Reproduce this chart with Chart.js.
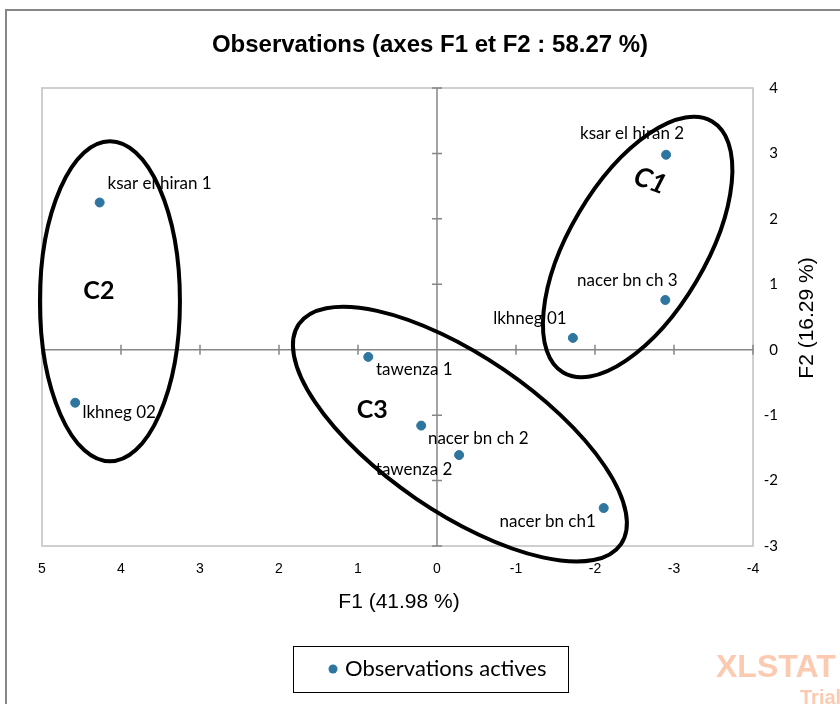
<!DOCTYPE html>
<html>
<head>
<meta charset="utf-8">
<script src="https://cdn.jsdelivr.net/npm/chart.js@4/dist/chart.umd.min.js"></script>
<style>
  html, body { margin: 0; padding: 0; background: #fff; }
  canvas { display: block; }
</style>
</head>
<body>
<canvas id="acpChart" width="840" height="704"></canvas>
<script>
// observations (coordonnées F1 / F2)
const obsNames = ['ksar el hiran 1', 'lkhneg 02', 'ksar el hiran 2', 'nacer bn ch 3', 'lkhneg 01',
                  'tawenza 1', 'nacer bn ch 2', 'tawenza 2', 'nacer bn ch1'];
const f1Values = [4.27, 4.58, -2.90, -2.89, -1.72, 0.87, 0.20, -0.28, -2.11];
const f2Values = [2.25, -0.81, 2.98, 0.76, 0.18, -0.11, -1.16, -1.61, -2.42];

// groupes (centres des ellipses en unités des axes)
const clusterNames = ['C1', 'C2', 'C3'];
const clusterF1 = [-2.54, 4.14, -0.29];
const clusterF2 = [1.57, 0.74, -1.29];
const clusterLabelF1 = [-2.70, 4.28, 0.82];
const clusterLabelF2 = [2.58, 0.90, -0.92];

const xTicks = [5, 4, 3, 2, 1, 0, -1, -2, -3, -4];
const yTicks = [4, 3, 2, 1, 0, -1, -2, -3];

// placement des étiquettes (décalage en px depuis le point)
const labelOffsets = [[60, -19], [44, 10], [-34, -21], [-38, -19], [-43, -19],
                      [46, 13], [57, 13], [-45, 14], [-56, 13]];
// forme des ellipses (px) : demi-axes et rotation
const ellipseShapes = [
  { rx: 68, ry: 146, rot: 30.7 },
  { rx: 70, ry: 160, rot: 0 },
  { rx: 195, ry: 78, rot: 34.3 }
];

const pointColor = '#2e75a0';
const points = f1Values.map((x, i) => ({ x: x, y: f2Values[i] }));

const decorPlugin = {
  id: 'decor',
  beforeDraw(chart) {
    const ctx = chart.ctx;
    const a = chart.chartArea;
    const xs = chart.scales.x, ys = chart.scales.y;
    ctx.save();
    // cadre extérieur
    ctx.strokeStyle = '#878787';
    ctx.lineWidth = 2;
    ctx.beginPath();
    ctx.moveTo(6, 720); ctx.lineTo(6, 10); ctx.lineTo(850, 10);
    ctx.stroke();
    // titre
    ctx.fillStyle = '#000';
    ctx.font = 'bold 24px "Liberation Sans"';
    ctx.textAlign = 'center';
    ctx.textBaseline = 'middle';
    ctx.fillText('Observations (axes F1 et F2 : 58.27 %)', 430, 45);
    // titres des axes
    ctx.font = '21px "Liberation Sans"';
    ctx.fillText('F1 (41.98 %)', 399, 602);
    ctx.save();
    ctx.translate(807, 318);
    ctx.rotate(-Math.PI / 2);
    ctx.fillText('F2 (16.29 %)', 0, 0);
    ctx.restore();
    // bordure de la zone de tracé
    ctx.strokeStyle = '#c0c0c0';
    ctx.lineWidth = 1.5;
    ctx.strokeRect(a.left, a.top, a.right - a.left, a.bottom - a.top);
    // axes passant par zéro
    const x0 = xs.getPixelForValue(0), y0 = ys.getPixelForValue(0);
    ctx.strokeStyle = '#868686';
    ctx.lineWidth = 1.5;
    ctx.beginPath();
    ctx.moveTo(x0, a.top); ctx.lineTo(x0, a.bottom);
    ctx.moveTo(a.left, y0); ctx.lineTo(a.right, y0);
    yTicks.forEach(v => {
      const py = ys.getPixelForValue(v);
      ctx.moveTo(x0 - 5, py); ctx.lineTo(x0 + 5, py);
    });
    xTicks.forEach(v => {
      const px = xs.getPixelForValue(v);
      ctx.moveTo(px, y0 - 5); ctx.lineTo(px, y0 + 5);
    });
    ctx.stroke();
    ctx.restore();
  },
  afterDatasetsDraw(chart) {
    const ctx = chart.ctx;
    const xs = chart.scales.x, ys = chart.scales.y;
    ctx.save();
    // étiquettes des observations
    ctx.fillStyle = '#000';
    ctx.font = '17px Lato';
    ctx.textAlign = 'center';
    ctx.textBaseline = 'middle';
    obsNames.forEach((name, i) => {
      const px = xs.getPixelForValue(f1Values[i]);
      const py = ys.getPixelForValue(f2Values[i]);
      ctx.fillText(name, px + labelOffsets[i][0], py + labelOffsets[i][1]);
    });
    // ellipses des groupes
    ctx.strokeStyle = '#000';
    ctx.lineWidth = 4;
    clusterNames.forEach((c, i) => {
      const s = ellipseShapes[i];
      ctx.beginPath();
      ctx.ellipse(xs.getPixelForValue(clusterF1[i]), ys.getPixelForValue(clusterF2[i]),
                  s.rx, s.ry, s.rot * Math.PI / 180, 0, Math.PI * 2);
      ctx.stroke();
    });
    // noms des groupes
    clusterNames.forEach((c, i) => {
      const px = xs.getPixelForValue(clusterLabelF1[i]);
      const py = ys.getPixelForValue(clusterLabelF2[i]);
      ctx.save();
      ctx.translate(px, py);
      ctx.font = 'bold 25px Lato';
      if (c === 'C1') { ctx.rotate(20 * Math.PI / 180); ctx.font = 'italic bold 27px Lato'; }
      ctx.fillText(c, 0, 0);
      ctx.restore();
    });
    // légende
    ctx.strokeStyle = '#000';
    ctx.lineWidth = 1;
    ctx.strokeRect(293.5, 646.5, 275, 46);
    ctx.fillStyle = pointColor;
    ctx.beginPath();
    ctx.arc(333, 669, 4.5, 0, Math.PI * 2);
    ctx.fill();
    ctx.fillStyle = '#000';
    ctx.font = '22px Lato';
    ctx.textAlign = 'left';
    ctx.fillText('Observations actives', 345, 669);
    // filigrane
    ctx.fillStyle = 'rgba(247, 150, 100, 0.5)';
    ctx.font = 'bold 32px "Liberation Sans"';
    ctx.fillText('XLSTAT', 716, 668);
    ctx.font = 'bold 20px "Liberation Sans"';
    ctx.fillText('Trial', 800, 698);
    ctx.restore();
  }
};

new Chart(document.getElementById('acpChart').getContext('2d'), {
  type: 'scatter',
  data: {
    datasets: [{
      label: 'Observations actives',
      data: points,
      backgroundColor: pointColor,
      borderColor: pointColor,
      pointRadius: 4.5,
      pointHoverRadius: 4.5
    }]
  },
  options: {
    responsive: false,
    animation: false,
    layout: { padding: { left: 42, top: 88, right: 62, bottom: 0 } },
    plugins: {
      legend: { display: false },
      title: { display: false },
      tooltip: { enabled: false }
    },
    scales: {
      x: {
        type: 'linear',
        reverse: true,
        min: -4,
        max: 5,
        grid: { display: false, drawTicks: false },
        border: { display: false },
        ticks: { stepSize: 1, padding: 15, color: '#000', font: { family: '"Liberation Sans"', size: 14 } },
        afterFit(scale) { scale.height = 158; }
      },
      y: {
        type: 'linear',
        position: 'right',
        min: -3,
        max: 4,
        grid: { display: false, drawTicks: false },
        border: { display: false },
        ticks: { stepSize: 1, padding: 13, crossAlign: 'far', color: '#000', font: { family: 'Lato', size: 15 } },
        afterFit(scale) { scale.width = 25; }
      }
    }
  },
  plugins: [decorPlugin]
});
</script>
</body>
</html>
